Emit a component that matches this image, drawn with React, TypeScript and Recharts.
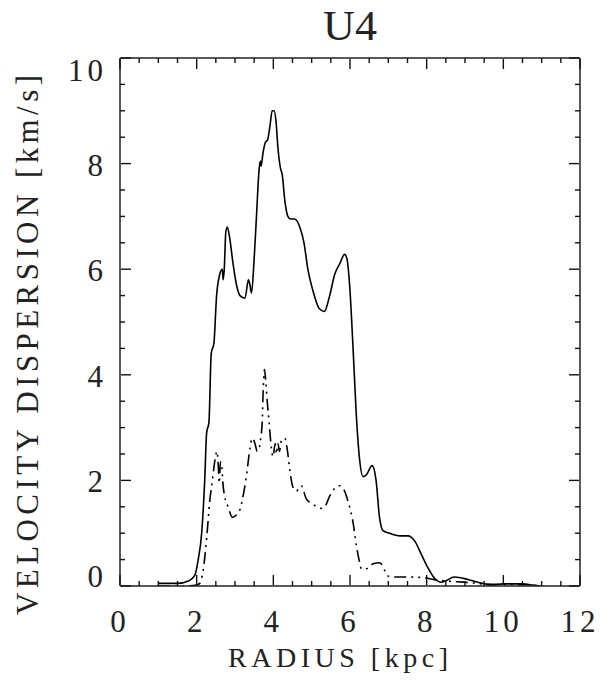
import React from "react";
import { LineChart, Line, XAxis, YAxis } from "recharts";

// solid curve
const solidR = [1.0, 1.5, 1.8, 1.95, 2.04, 2.13, 2.21, 2.26, 2.32, 2.38, 2.45, 2.52, 2.6, 2.67, 2.69, 2.72, 2.76, 2.8, 2.86, 2.95, 3.04, 3.13, 3.26, 3.35, 3.39, 3.43, 3.5, 3.56, 3.63, 3.66, 3.68, 3.73, 3.79, 3.85, 3.91, 3.97, 4.02, 4.07, 4.12, 4.19, 4.23, 4.3, 4.38, 4.45, 4.55, 4.69, 4.8, 4.9, 5.03, 5.2, 5.33, 5.47, 5.6, 5.73, 5.86, 5.92, 5.99, 6.08, 6.16, 6.25, 6.34, 6.42, 6.58, 6.68, 6.77, 6.86, 7.03, 7.3, 7.51, 7.69, 7.86, 8.03, 8.2, 8.38, 8.5, 8.72, 9.1, 9.46, 9.72, 9.98, 10.42, 10.76, 10.98];
const solidV = [0.05, 0.05, 0.1, 0.2, 0.5, 1.0, 2.0, 2.9, 3.1, 4.4, 4.6, 5.5, 5.9, 6.0, 5.8, 6.0, 6.7, 6.8, 6.6, 6.1, 5.7, 5.5, 5.45, 5.8, 5.7, 5.55, 6.2, 7.0, 7.9, 8.05, 7.95, 8.2, 8.4, 8.45, 8.7, 9.0, 9.0, 8.8, 8.3, 7.9, 7.8, 7.3, 7.0, 6.95, 6.95, 6.8, 6.5, 6.0, 5.6, 5.25, 5.2, 5.5, 5.9, 6.1, 6.28, 6.2, 5.7, 4.5, 3.3, 2.4, 2.07, 2.1, 2.28, 2.0, 1.3, 1.05, 1.0, 0.95, 0.95, 0.85, 0.6, 0.35, 0.15, 0.07, 0.1, 0.17, 0.12, 0.05, 0.02, 0.04, 0.04, 0.02, 0.0];

// dash-dot curve
const dashR = [1.0, 1.7, 2.0, 2.08, 2.17, 2.26, 2.34, 2.41, 2.47, 2.53, 2.57, 2.59, 2.62, 2.65, 2.69, 2.73, 2.82, 2.93, 3.04, 3.13, 3.21, 3.3, 3.39, 3.45, 3.52, 3.58, 3.63, 3.67, 3.71, 3.73, 3.77, 3.8, 3.84, 3.89, 3.95, 3.99, 4.05, 4.08, 4.12, 4.16, 4.21, 4.3, 4.36, 4.43, 4.5, 4.6, 4.73, 4.86, 5.03, 5.25, 5.34, 5.47, 5.6, 5.71, 5.82, 5.95, 6.08, 6.17, 6.25, 6.3, 6.45, 6.6, 6.78, 6.9, 6.97, 7.1, 7.5, 7.9, 8.2, 8.43, 8.8, 9.2, 9.6, 10.0, 10.5, 10.98];
const dashV = [0.0, 0.0, 0.02, 0.05, 0.3, 0.9, 1.6, 2.0, 2.35, 2.55, 2.2, 1.95, 2.35, 2.3, 1.9, 1.7, 1.5, 1.3, 1.35, 1.45, 1.7, 2.1, 2.6, 2.8, 2.7, 2.55, 2.6, 2.8, 3.1, 3.6, 4.1, 3.9, 3.5, 3.1, 2.6, 2.45, 2.7, 2.5, 2.7, 2.55, 2.75, 2.8, 2.6, 2.2, 1.9, 1.8, 1.9, 1.65, 1.55, 1.47, 1.5, 1.7, 1.85, 1.9, 1.85, 1.6, 1.2, 0.75, 0.45, 0.32, 0.33, 0.42, 0.44, 0.3, 0.2, 0.17, 0.17, 0.16, 0.12, 0.1, 0.08, 0.06, 0.03, 0.03, 0.03, 0.0];

const xMajor = [0, 2, 4, 6, 8, 10, 12];
const xMinor = [0.5, 1, 1.5, 2.5, 3, 3.5, 4.5, 5, 5.5, 6.5, 7, 7.5, 8.5, 9, 9.5, 10.5, 11, 11.5];
const yMajor = [0, 2, 4, 6, 8, 10];
const yMinor = [0.5, 1, 1.5, 2.5, 3, 3.5, 4.5, 5, 5.5, 6.5, 7, 7.5, 8.5, 9, 9.5];

const solidData = solidR.map((r, i) => ({ r, v: solidV[i] }));
const dashData = dashR.map((r, i) => ({ r, v: dashV[i] }));

const INK = "#222";
const FONT = "'Liberation Serif', serif";

const XLabel = (props: any) => {
  const { x, y, payload } = props;
  return (
    <text x={x} y={y + 46} textAnchor="middle" fontFamily={FONT} fontSize={31} fill={INK} letterSpacing={4}>
      {payload.value}
    </text>
  );
};

const YLabel = (props: any) => {
  const { x, y, payload } = props;
  const v = payload.value;
  // IDL pulls the end labels inside the axis range
  const base = v === 0 ? y + 1 : v === 10 ? y + 23 : y + 12;
  return (
    <text x={x - 13} y={base} textAnchor="end" fontFamily={FONT} fontSize={31} fill={INK} letterSpacing={4}>
      {v}
    </text>
  );
};

// tick marks drawn by the tick renderer, inward from the axis line
const Mark = (props: any) => {
  const { x, y, side, len } = props;
  const dx = side === "left" ? len : side === "right" ? -len : 0;
  const dy = side === "bottom" ? -len : side === "top" ? len : 0;
  return <path d={`M${x},${y}L${x + dx},${y + dy}`} stroke="#111" strokeWidth={1.4} fill="none" />;
};

const frame = { stroke: INK, strokeWidth: 1.5 };

const xAxisProps = (id: string, orientation: "top" | "bottom", ticks: number[], len: number, withLine: boolean, label: boolean) => (
  <XAxis
    key={id}
    xAxisId={id}
    orientation={orientation}
    type="number"
    dataKey="r"
    domain={[0, 12]}
    ticks={ticks}
    interval={0}
    height={1}
    tickSize={0}
    tickMargin={0}
    tickLine={false}
    tick={(p: any) => (
      <g>
        <Mark x={p.x} y={orientation === "bottom" ? p.y - 1 : p.y + 1} side={orientation} len={len} />
        {label ? <XLabel {...p} /> : null}
      </g>
    )}
    axisLine={withLine ? frame : false}
    allowDataOverflow
  />
);

const yAxisProps = (id: string, orientation: "left" | "right", ticks: number[], len: number, withLine: boolean, label: boolean) => (
  <YAxis
    key={id}
    yAxisId={id}
    orientation={orientation}
    type="number"
    domain={[0, 10]}
    ticks={ticks}
    interval={0}
    width={1}
    tickSize={0}
    tickMargin={0}
    tickLine={false}
    tick={(p: any) => (
      <g>
        <Mark x={orientation === "left" ? p.x + 1 : p.x - 1} y={p.y} side={orientation} len={len} />
        {label ? <YLabel {...p} /> : null}
      </g>
    )}
    axisLine={withLine ? frame : false}
    allowDataOverflow
  />
);

export default function App() {
  return (
    <div style={{ position: "absolute", left: 0, top: 0, width: 601, height: 682, background: "#fff" }}>
      <LineChart width={601} height={682} margin={{ top: 56, right: 19, bottom: 94, left: 118 }}>
        {xAxisProps("b", "bottom", xMajor, 10, true, true)}
        {xAxisProps("bm", "bottom", xMinor, 5, false, false)}
        {xAxisProps("t", "top", xMajor, 10, true, false)}
        {xAxisProps("tm", "top", xMinor, 5, false, false)}
        {yAxisProps("l", "left", yMajor, 10, true, true)}
        {yAxisProps("lm", "left", yMinor, 5, false, false)}
        {yAxisProps("r", "right", yMajor, 10, true, false)}
        {yAxisProps("rm", "right", yMinor, 5, false, false)}
        <Line
          xAxisId="b"
          yAxisId="l"
          data={solidData}
          dataKey="v"
          type="monotone"
          stroke="#000"
          strokeWidth={1.6}
          dot={false}
          isAnimationActive={false}
        />
        <Line
          xAxisId="b"
          yAxisId="l"
          data={dashData}
          dataKey="v"
          type="monotone"
          stroke="#000"
          strokeWidth={1.6}
          strokeDasharray="12 5 2 5 2 5"
          dot={false}
          isAnimationActive={false}
        />
      </LineChart>
      <svg width={601} height={682} style={{ position: "absolute", left: 0, top: 0, pointerEvents: "none" }}>
        <text x={323} y={40} fontFamily={FONT} fontSize={42} fill={INK} textLength={54} lengthAdjust="spacingAndGlyphs">
          U4
        </text>
        <text x={228} y={667} fontFamily={FONT} fontSize={28} fill={INK} textLength={220} lengthAdjust="spacing">
          RADIUS [kpc]
        </text>
        <text
          x={0}
          y={0}
          transform="translate(38,615) rotate(-90)"
          fontFamily={FONT}
          fontSize={31}
          fill={INK}
          textLength={540}
          lengthAdjust="spacing"
        >
          VELOCITY DISPERSION [km/s]
        </text>
      </svg>
    </div>
  );
}
